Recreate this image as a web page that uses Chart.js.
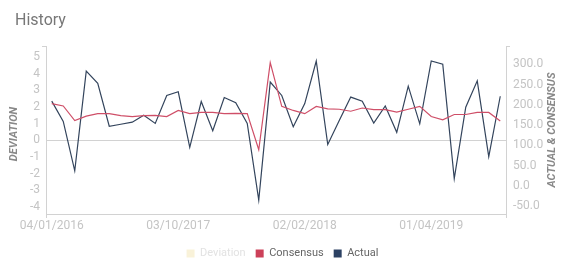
<!DOCTYPE html>
<html>
<head>
<meta charset="utf-8">
<script src="https://cdn.jsdelivr.net/npm/chart.js@4.4.0/dist/chart.umd.min.js"></script>
<style>
  html, body { margin: 0; padding: 0; background: #fff; }
  #wrap { position: relative; width: 565px; height: 271px; }
  #title { position: absolute; left: 15px; top: 10px; font: 16px Roboto, sans-serif; color: #777; }
</style>
</head>
<body>
<div id="wrap">
  <div id="title">History</div>
  <canvas id="chartdiv" width="565" height="271"></canvas>
</div>
<script>
// release dates (MM/DD/YYYY)
const dates = [
  '04/01/2016', '05/06/2016', '06/03/2016', '07/08/2016', '08/05/2016', '09/02/2016', '10/07/2016', '11/04/2016',
  '12/02/2016', '01/06/2017', '02/03/2017', '03/10/2017', '04/07/2017', '05/05/2017', '06/02/2017', '07/07/2017',
  '08/04/2017', '09/01/2017', '10/06/2017', '11/03/2017', '12/08/2017', '01/05/2018', '02/02/2018', '03/09/2018',
  '04/06/2018', '05/04/2018', '06/01/2018', '07/06/2018', '08/03/2018', '09/07/2018', '10/05/2018', '11/02/2018',
  '12/07/2018', '01/04/2019', '02/01/2019', '03/08/2019', '04/05/2019', '05/03/2019', '06/07/2019', '07/05/2019'
];

const actual = [
  209, 159, 37, 283, 253, 147, 152, 157, 174, 154, 223, 232, 95, 208, 136, 218, 205, 154, -35, 256,
  223, 146, 203, 308, 102, 161, 219, 209, 155, 197, 132, 246, 153, 308, 300, 18, 194, 259, 72, 221
];

const consensus = [
  203, 197, 161, 172, 178, 178, 173, 171, 173, 174, 171, 186, 178, 181, 181, 178, 179, 178, 89, 304,
  196, 186, 178, 196, 190, 189, 184, 192, 188, 188, 182, 189, 196, 171, 163, 176, 176, 181, 181, 160
];

// hidden in the reference
const deviation = [
  0.1, -0.8, -2.5, 2.2, 1.5, -0.6, -0.4, -0.3, 0.0, -0.4, 1.0, 0.9, -1.7, 0.5, -0.9, 0.8, 0.5, -0.5, -2.5, -1.0,
  0.5, -0.8, 0.5, 2.2, -1.8, -0.6, 0.7, 0.3, -0.7, 0.2, -1.0, 1.1, -0.9, 2.7, 2.7, -3.2, 0.4, 1.6, -2.2, 1.2
];

const tickFont = { family: 'Roboto', size: 12 };
const tickColor = '#c4c4c4';
const lineColor = '#d2d2d2';

// axis titles + little end ticks
const axisDecor = {
  id: 'axisDecor',
  afterDraw(chart) {
    const ctx = chart.ctx, a = chart.chartArea;
    ctx.save();
    ctx.font = 'italic bold 11px Roboto';
    ctx.fillStyle = '#888';
    ctx.textAlign = 'center';
    ctx.textBaseline = 'middle';
    [[14, a.top + 88, 'DEVIATION'], [552, a.top + 84, 'ACTUAL & CONSENSUS']].forEach(function (t) {
      ctx.save();
      ctx.translate(t[0], t[1]);
      ctx.rotate(-Math.PI / 2);
      ctx.fillText(t[2], 0, 0);
      ctx.restore();
    });
    ctx.strokeStyle = lineColor;
    ctx.lineWidth = 1;
    ctx.beginPath();
    ctx.moveTo(a.left - 4, a.top + 0.5); ctx.lineTo(a.left, a.top + 0.5);
    ctx.moveTo(a.right, a.top + 0.5); ctx.lineTo(a.right + 4, a.top + 0.5);
    ctx.moveTo(a.left + 0.5, a.bottom); ctx.lineTo(a.left + 0.5, a.bottom + 4);
    ctx.moveTo(a.right + 0.5, a.bottom); ctx.lineTo(a.right + 0.5, a.bottom + 4);
    ctx.stroke();
    ctx.restore();
  }
};

var ctx = document.querySelector('#chartdiv');

var myChart = new Chart(ctx, {
  type: 'line',
  data: {
    labels: dates,
    datasets: [{
      type: 'bar',
      label: 'Deviation',
      data: deviation,
      yAxisID: 'y',
      hidden: true,
      backgroundColor: 'rgba(244, 208, 90, 0.7)'
    }, {
      label: 'Consensus',
      data: consensus,
      yAxisID: 'y1',
      borderColor: '#cf4f68',
      backgroundColor: '#cc4159',
      borderWidth: 1.2,
      pointRadius: 0,
      tension: 0,
      fill: false
    }, {
      label: 'Actual',
      data: actual,
      yAxisID: 'y1',
      borderColor: '#33445c',
      backgroundColor: '#2c4163',
      borderWidth: 1.2,
      pointRadius: 0,
      tension: 0,
      fill: false
    }]
  },
  options: {
    responsive: false,
    animation: false,
    layout: { padding: { top: 46, left: 0, right: 0, bottom: 2 } },
    plugins: {
      tooltip: { enabled: false },
      legend: {
        position: 'bottom',
        labels: {
          font: { family: 'Roboto', size: 11 },
          color: '#666',
          boxWidth: 8,
          boxHeight: 8,
          padding: 10,
          generateLabels: function (chart) {
            const items = Chart.defaults.plugins.legend.labels.generateLabels(chart);
            items.forEach(function (it) {
              it.lineWidth = 0;
              if (it.hidden) {
                it.hidden = false;
                it.fontColor = '#e2e2e2';
                it.fillStyle = '#f9f2d9';
              }
            });
            return items;
          }
        }
      }
    },
    scales: {
      x: {
        offset: true,
        grid: { display: true, color: 'transparent', drawTicks: false },
        border: { display: true, color: lineColor },
        afterFit: function (s) { s.height = 24; },
        ticks: {
          autoSkip: false,
          maxRotation: 0,
          minRotation: 0,
          padding: 5,
          color: tickColor,
          font: tickFont,
          callback: function (v, i) { return i % 11 === 0 ? dates[i] : ''; }
        }
      },
      y: {
        position: 'left',
        min: -4.43,
        max: 5.66,
        afterFit: function (s) { s.width = 46; },
        grid: {
          drawTicks: false,
          color: function (c) { return c.tick && c.tick.value === 0 ? lineColor : 'transparent'; }
        },
        border: { display: true, color: lineColor },
        ticks: {
          stepSize: 1,
          includeBounds: false,
          padding: 6,
          color: tickColor,
          font: tickFont
        }
      },
      y1: {
        position: 'right',
        min: -69.5,
        max: 345,
        afterFit: function (s) { s.width = 59; },
        grid: { drawOnChartArea: false, drawTicks: false },
        border: { display: true, color: lineColor },
        ticks: {
          stepSize: 50,
          includeBounds: false,
          padding: 7,
          color: tickColor,
          font: tickFont,
          callback: function (v) { return v.toFixed(1); }
        }
      }
    }
  },
  plugins: [axisDecor]
});
</script>
</body>
</html>
